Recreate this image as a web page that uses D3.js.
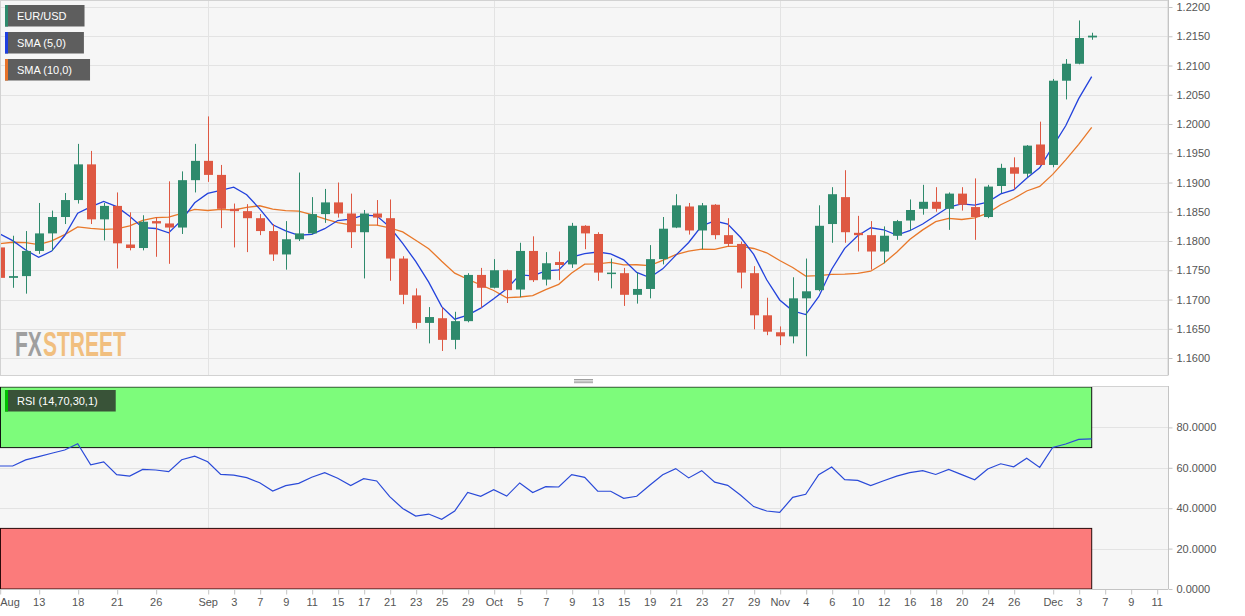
<!DOCTYPE html>
<html>
<head>
<meta charset="utf-8">
<style>
  body { margin: 0; background: #fff; }
  svg { display: block; font-family: "Liberation Sans", Arial, sans-serif; }
  .axis text { fill: #555; font-size: 11px; }
  .axis path, .axis line { stroke: #c4c4c4; }
  .grid line { stroke: #e3e3e3; stroke-width: 1; }
  .legend text { fill: #fff; font-size: 11px; }
</style>
</head>
<body>
<div id="chart"></div>
<script src="https://d3js.org/d3.v7.min.js"></script>
<script>
// EUR/USD daily candles, Aug 10 -> Dec 4 (one entry per trading day)
const opens = [1.1789,1.1737,1.1740,1.1783,1.1813,1.1841,1.1870,1.1931,1.1837,1.1860,
  1.1794,1.1788,1.1834,1.1830,1.1823,1.1904,1.1937,1.1913,1.1855,1.1851,
  1.1839,1.1817,1.1777,1.1803,1.1813,1.1846,1.1866,1.1847,1.1815,1.1847,
  1.1839,1.1770,1.1707,1.1660,1.1668,1.1631,1.1663,1.1742,1.1720,1.1750,
  1.1717,1.1783,1.1734,1.1764,1.1760,1.1826,1.1812,1.1745,1.1745,1.1708,
  1.1718,1.1769,1.1823,1.1859,1.1818,1.1862,1.1810,1.1795,1.1745,1.1673,
  1.1644,1.1637,1.1702,1.1716,1.1829,1.1875,1.1814,1.1810,1.1782,1.1809,
  1.1835,1.1855,1.1867,1.1855,1.1881,1.1858,1.1841,1.1894,1.1926,1.1915,
  1.1965,1.1930,1.2074,1.2103,1.2148];

const highs = [1.1805,1.1809,1.1817,1.1865,1.1852,1.1882,1.1966,1.1954,1.1865,1.1883,
  1.1849,1.1844,1.1841,1.1902,1.1919,1.1966,1.2013,1.1930,1.1864,1.1863,
  1.1846,1.1829,1.1834,1.1917,1.1875,1.1889,1.1900,1.1881,1.1853,1.1870,
  1.1871,1.1774,1.1719,1.1687,1.1686,1.1679,1.1745,1.1754,1.1769,1.1751,
  1.1797,1.1808,1.1781,1.1782,1.1831,1.1827,1.1815,1.1770,1.1754,1.1746,
  1.1793,1.1841,1.1880,1.1865,1.1865,1.1863,1.1839,1.1799,1.1757,1.1703,
  1.1654,1.1738,1.1770,1.1861,1.1892,1.1921,1.1843,1.1834,1.1825,1.1836,
  1.1871,1.1896,1.1892,1.1883,1.1892,1.1907,1.1896,1.1932,1.1943,1.1964,
  1.2004,1.2077,1.2111,1.2177,1.2156];

const lows = [1.1730,1.1720,1.1710,1.1778,1.1783,1.1829,1.1864,1.1829,1.1801,1.1753,
  1.1784,1.1784,1.1773,1.1761,1.1812,1.1883,1.1901,1.1822,1.1789,1.1781,
  1.1810,1.1766,1.1751,1.1800,1.1811,1.1831,1.1840,1.1788,1.1736,1.1827,
  1.1732,1.1692,1.1650,1.1625,1.1612,1.1615,1.1661,1.1686,1.1719,1.1694,
  1.1704,1.1730,1.1724,1.1733,1.1754,1.1786,1.1732,1.1719,1.1689,1.1693,
  1.1702,1.1760,1.1822,1.1811,1.1786,1.1803,1.1790,1.1719,1.1649,1.1639,
  1.1622,1.1625,1.1603,1.1714,1.1797,1.1797,1.1782,1.1751,1.1762,1.1802,
  1.1818,1.1845,1.1850,1.1819,1.1852,1.1802,1.1839,1.1882,1.1888,1.1909,
  1.1929,1.1926,1.2042,1.2102,1.2144];

const closes = [1.1737,1.1740,1.1783,1.1813,1.1841,1.1870,1.1931,1.1837,1.1860,1.1796,
  1.1788,1.1833,1.1830,1.1823,1.1904,1.1937,1.1913,1.1855,1.1851,1.1839,
  1.1817,1.1777,1.1803,1.1813,1.1846,1.1866,1.1847,1.1815,1.1847,1.1840,
  1.1770,1.1708,1.1660,1.1670,1.1631,1.1663,1.1742,1.1720,1.1750,1.1716,
  1.1783,1.1733,1.1762,1.1759,1.1826,1.1813,1.1746,1.1746,1.1708,1.1718,
  1.1769,1.1821,1.1861,1.1818,1.1861,1.1810,1.1795,1.1746,1.1673,1.1645,
  1.1637,1.1702,1.1714,1.1826,1.1880,1.1815,1.1810,1.1782,1.1809,1.1834,
  1.1853,1.1867,1.1855,1.1881,1.1862,1.1841,1.1893,1.1925,1.1915,1.1963,
  1.1930,1.2074,1.2103,1.2147,1.2151];

// closes of the 9 sessions before Aug 10, only used to seed the moving averages
const closesBefore = [1.1717,1.1791,1.1846,1.1778,1.1762,1.1799,1.1863,1.1876,1.1787];

// RSI (14)
const rsi = [60.9,60.9,63.9,65.5,67.2,68.8,71.9,61.5,62.9,56.6,
  55.9,59.2,58.9,58.1,64.0,65.8,63.0,56.7,56.4,55.1,
  52.6,48.5,51.2,52.3,55.3,57.6,54.8,51.2,54.6,53.5,
  45.7,39.9,36.1,37.1,34.5,38.6,47.8,45.9,49.2,46.0,
  52.5,47.8,50.7,50.5,56.6,55.3,48.4,48.4,44.9,45.9,
  51.4,56.6,59.6,55.0,58.6,52.9,51.3,46.4,40.8,38.6,
  37.9,45.4,46.9,56.6,60.4,54.1,53.8,51.2,53.6,55.9,
  57.6,58.6,56.7,59.2,56.6,54.1,59.4,62.0,60.5,64.7,
  60.2,70.1,71.8,74.1,74.3];

// x axis labels (index of the trading day -> text)
const tickIdx = [0,3,6,9,12,16,18,20,22,24,26,28,30,32,34,36,38,40,42,44,46,48,50,52,54,56,58,
  60,62,64,66,68,70,72,74,76,78,81,83,85,87,89];
const tickText = ['Aug','13','18','21','26','Sep','3','7','9','11','15','17','21','23','25','29',
  'Oct','5','7','9','13','15','19','21','23','27','29','Nov','4','6','10','12','16','18','20','24','26',
  'Dec','3','7','9','11'];
const monthStarts = [16, 38, 60, 81];

const priceTicks = [1.16,1.165,1.17,1.175,1.18,1.185,1.19,1.195,1.20,1.205,1.21,1.215,1.22];
const rsiTicks = [0, 20, 40, 60, 80];

const legendItems = [
  { label: 'EUR/USD', color: '#2e8a6c' },
  { label: 'SMA (5,0)', color: '#1f3fe0' },
  { label: 'SMA (10,0)', color: '#e8732a' }
];

// chart geometry
const width = 1245, height = 616;
const plotRight = 1168;
const priceTop = 0, priceBottom = 375;
const rsiTop = 386, rsiBottom = 589;

const green = '#2e8a6c', red = '#de5842';

const svg = d3.select('#chart').append('svg')
  .attr('width', width)
  .attr('height', height);

// scales
const x = d3.scaleLinear().domain([0, 84]).range([-0.3, 1091.7]);
const y = d3.scaleLinear().domain([1.16, 1.22]).range([358, 7]);
const yr = d3.scaleLinear().domain([0, 100]).range([rsiBottom, rsiBottom - 202]);

// panel backgrounds
svg.append('rect').attr('x', 0).attr('y', priceTop).attr('width', plotRight).attr('height', priceBottom - priceTop)
  .attr('fill', '#f6f6f6');
svg.append('rect').attr('x', 0).attr('y', rsiTop).attr('width', plotRight).attr('height', rsiBottom - rsiTop)
  .attr('fill', '#f6f6f6');

svg.append('defs').append('clipPath').attr('id', 'clipPrice')
  .append('rect').attr('x', 0).attr('y', priceTop).attr('width', plotRight).attr('height', priceBottom - priceTop);

// grid lines
const grid = svg.append('g').attr('class', 'grid');
grid.selectAll('.hp').data(priceTicks).join('line')
  .attr('x1', 0).attr('x2', plotRight)
  .attr('y1', d => Math.round(y(d)) + 0.5).attr('y2', d => Math.round(y(d)) + 0.5);
grid.selectAll('.hr').data(rsiTicks.slice(1)).join('line').attr('class', 'hr')
  .attr('x1', 0).attr('x2', plotRight)
  .attr('y1', d => Math.round(yr(d)) + 0.5).attr('y2', d => Math.round(yr(d)) + 0.5);
grid.selectAll('.vp').data(monthStarts).join('line').attr('class', 'vp')
  .attr('x1', d => Math.round(x(d)) + 0.5).attr('x2', d => Math.round(x(d)) + 0.5)
  .attr('y1', priceTop).attr('y2', priceBottom);
grid.selectAll('.vr').data(monthStarts).join('line').attr('class', 'vr')
  .attr('x1', d => Math.round(x(d)) + 0.5).attr('x2', d => Math.round(x(d)) + 0.5)
  .attr('y1', rsiTop).attr('y2', rsiBottom);

// FXStreet mark, bottom left of the price panel (tall, narrow letters)
svg.append('text')
  .attr('transform', 'translate(15,356) scale(1,1.65)')
  .attr('font-size', 21).attr('font-weight', 'bold')
  .attr('fill', '#8a8a8a').attr('opacity', 0.8)
  .text('FX');
svg.append('text')
  .attr('transform', 'translate(43,356) scale(1,1.65)')
  .attr('font-size', 21).attr('font-weight', 'bold')
  .attr('fill', '#f0b262').attr('opacity', 0.8)
  .text('STREET');

// moving averages
function sma(n) {
  const all = closesBefore.concat(closes);
  const off = closesBefore.length;
  return closes.map((c, i) => d3.mean(all.slice(off + i - n + 1, off + i + 1)));
}
const sma5 = sma(5);
const sma10 = sma(10);

const price = svg.append('g').attr('clip-path', 'url(#clipPrice)');
const line = d3.line().x((d, i) => x(i)).y(d => y(d));

price.append('path').datum(sma10)
  .attr('fill', 'none').attr('stroke', '#e8782a').attr('stroke-width', 1.3).attr('d', line);
price.append('path').datum(sma5)
  .attr('fill', 'none').attr('stroke', '#2342dc').attr('stroke-width', 1.3).attr('d', line);

// candles
const candles = price.selectAll('g.candle').data(closes.map((c, i) => i)).join('g').attr('class', 'candle');
candles.append('line')
  .attr('x1', i => Math.round(x(i)) + 0.5).attr('x2', i => Math.round(x(i)) + 0.5)
  .attr('y1', i => y(highs[i])).attr('y2', i => y(lows[i]))
  .attr('stroke', i => closes[i] >= opens[i] ? green : red);
candles.append('rect')
  .attr('x', i => Math.round(x(i)) - 4)
  .attr('width', 9)
  .attr('y', i => y(Math.max(opens[i], closes[i])))
  .attr('height', i => Math.max(1.5, Math.abs(y(opens[i]) - y(closes[i]))))
  .attr('fill', i => closes[i] >= opens[i] ? green : red);

// price panel border + axis
svg.append('rect').attr('x', 0.5).attr('y', priceTop + 0.5).attr('width', plotRight - 0.5).attr('height', priceBottom - priceTop)
  .attr('fill', 'none').attr('stroke', '#d2d2d2');
svg.append('g').attr('class', 'axis')
  .attr('transform', `translate(${plotRight + 0.5},0)`)
  .call(d3.axisRight(y).tickValues(priceTicks).tickFormat(d3.format('.4f')).tickSize(4).tickPadding(4))
  .call(g => g.select('.domain').attr('d', `M0,${priceTop}V${priceBottom}`));

// splitter handle between panels
[0, 2, 4].forEach(k => {
  svg.append('line').attr('x1', 574).attr('x2', 593)
    .attr('y1', 379.5 + k * 0.8).attr('y2', 379.5 + k * 0.8)
    .attr('stroke', '#888').attr('stroke-width', 0.8);
});

// RSI zones
const lastX = x(rsi.length - 1);
svg.append('rect').attr('x', 0.5).attr('y', yr(100)).attr('width', lastX - 0.5).attr('height', yr(70) - yr(100))
  .attr('fill', '#7dfc7b').attr('stroke', '#111').attr('stroke-width', 1);
svg.append('rect').attr('x', 0.5).attr('y', yr(30)).attr('width', lastX - 0.5).attr('height', yr(0) - yr(30))
  .attr('fill', '#fb7b7b').attr('stroke', '#2a0a0a').attr('stroke-width', 1);

// RSI line
svg.append('path').datum(rsi)
  .attr('fill', 'none').attr('stroke', '#2a4ad8').attr('stroke-width', 1.2)
  .attr('d', d3.line().x((d, i) => x(i)).y(d => yr(d)));

// RSI axis
svg.append('g').attr('class', 'axis')
  .attr('transform', `translate(${plotRight + 0.5},0)`)
  .call(d3.axisRight(yr).tickValues(rsiTicks).tickFormat(d3.format('.4f')).tickSize(4).tickPadding(4))
  .call(g => g.select('.domain').attr('d', `M0,${rsiTop}V${rsiBottom}`));

svg.append('line').attr('x1', 0).attr('x2', plotRight).attr('y1', rsiTop + 0.5).attr('y2', rsiTop + 0.5)
  .attr('stroke', '#d2d2d2');

// date axis
const xAxis = svg.append('g').attr('class', 'axis')
  .attr('transform', `translate(0,${rsiBottom + 0.5})`)
  .call(d3.axisBottom(x).tickValues(tickIdx).tickFormat((d, i) => tickText[i]).tickSize(5).tickPadding(4).tickSizeOuter(0))
  .call(g => g.select('.domain').attr('d', `M0,0H${plotRight}`));
xAxis.selectAll('.tick line').attr('transform', 'translate(0.5,0)');
xAxis.selectAll('.tick').filter(d => d === 0).select('text').attr('text-anchor', 'start').attr('x', 0);

// legends
function drawLegend(items, top, bg) {
  const g = svg.append('g').attr('class', 'legend');
  items.forEach((it, k) => {
    const row = g.append('g').attr('transform', `translate(5,${top + k * 27})`);
    const box = row.append('rect').attr('height', 21.5).attr('fill', it.bg || bg);
    row.append('rect').attr('width', 3).attr('height', 21.5).attr('fill', it.color);
    const t = row.append('text').attr('x', 12).attr('y', 15).text(it.label);
    box.attr('width', t.node().getComputedTextLength() + 30);
  });
}
drawLegend(legendItems, 5, '#5e5e5e');
drawLegend([{ label: 'RSI (14,70,30,1)', color: '#00c000' }], 390, 'rgba(40,40,40,0.8)');
</script>
</body>
</html>
